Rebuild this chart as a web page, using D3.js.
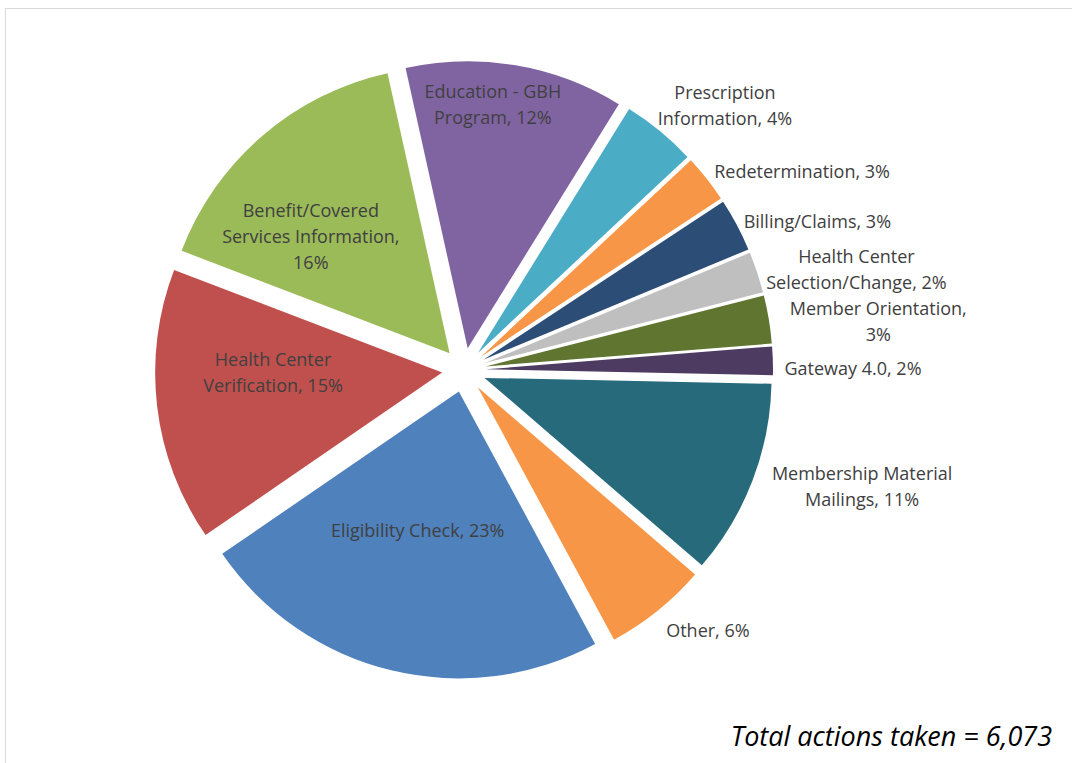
<!DOCTYPE html>
<html><head><meta charset="utf-8">
<script src="https://cdn.jsdelivr.net/npm/d3@7"></script>
<style>
html,body{margin:0;padding:0;background:#fff;}
svg{display:block;}
</style></head>
<body>
<svg id="chart" width="1072" height="763"></svg>
<script>
// ---- data ----
const categories = [
  "Education - GBH Program", "Prescription Information", "Redetermination",
  "Billing/Claims", "Health Center Selection/Change", "Member Orientation",
  "Gateway 4.0", "Membership Material Mailings", "Other",
  "Eligibility Check", "Health Center Verification", "Benefit/Covered Services Information"
];
const actions = [747, 255, 164, 182, 140, 164, 97, 668, 352, 1415, 935, 954];
const labelLines = [
  ["Education - GBH", "Program, {p}"],
  ["Prescription", "Information, {p}"],
  ["Redetermination, {p}"],
  ["Billing/Claims, {p}"],
  ["Health Center", "Selection/Change, {p}"],
  ["Member Orientation,", "{p}"],
  ["Gateway 4.0, {p}"],
  ["Membership Material", "Mailings, {p}"],
  ["Other, {p}"],
  ["Eligibility Check, {p}"],
  ["Health Center", "Verification, {p}"],
  ["Benefit/Covered", "Services Information,", "{p}"]
];
const colors = ["#8064A2","#4BACC6","#F79646","#2C4D75","#BFBFBF","#5F7530",
                "#4D3B62","#276A7C","#F79646","#4F81BD","#C0504D","#9BBB59"];
const totalLabel = "Total actions taken = 6,073";

// ---- layout ----
const cx = 464, cy = 370, R = 287, explode = 22;
const startDeg = -12.5;
// label anchor (polar, degrees clockwise from 12 o'clock, distance from centre)
const labelPolar = [
  [6.2, 267], [44.7, 371], [59.6, 392], [67.3, 383], [75.7, 405], [83.4, 417],
  [89.9, 389], [106.4, 415], [136.9, 357], [196, 168], [269, 191], [311, 203]
];
const lineH = 26;

const svg = d3.select("#chart");
svg.append("rect").attr("x", 5.5).attr("y", 8.5).attr("width", 1100).attr("height", 800)
  .attr("fill", "none").attr("stroke", "#d9d9d9").attr("stroke-width", 1);

const total = d3.sum(actions);
const data = categories.map((c, i) => ({cat: c, v: actions[i], i}));
const pie = d3.pie().value(d => d.v).sort(null)
  .startAngle(startDeg * Math.PI / 180)
  .endAngle(startDeg * Math.PI / 180 + 2 * Math.PI);
const arcs = pie(data);
const arc = d3.arc().innerRadius(0).outerRadius(R);

const g = svg.append("g").attr("transform", `translate(${cx},${cy})`);
g.selectAll("path.slice").data(arcs).join("path")
  .attr("class", "slice")
  .attr("d", arc)
  .attr("fill", d => colors[d.data.i])
  .attr("transform", d => {
    const m = (d.startAngle + d.endAngle) / 2;
    const [x, y] = d3.pointRadial(m, explode);
    return `translate(${x},${y})`;
  });

const lg = g.append("g").attr("font-family", "'Open Sans', 'Noto Sans', sans-serif")
  .attr("font-size", "18px").attr("fill", "#404040").attr("text-anchor", "middle");
arcs.forEach((d, k) => {
  const pct = Math.round(d.data.v / total * 100) + "%";
  const lines = labelLines[k].map(s => s.replace("{p}", pct));
  const [a, r] = labelPolar[k];
  const [x, y] = d3.pointRadial(a * Math.PI / 180, r);
  const t = lg.append("text").attr("x", x).attr("y", y - (lines.length - 1) * lineH / 2 + 6);
  lines.forEach((ln, j) => {
    t.append("tspan").attr("x", x).attr("dy", j === 0 ? 0 : lineH).text(ln);
  });
});

svg.append("text").attr("x", 1052).attr("y", 746).attr("text-anchor", "end")
  .attr("font-family", "'Open Sans', 'Noto Sans', sans-serif").attr("font-style", "italic")
  .attr("font-size", "27px").attr("fill", "#000").text(totalLabel);
</script>
</body></html>
